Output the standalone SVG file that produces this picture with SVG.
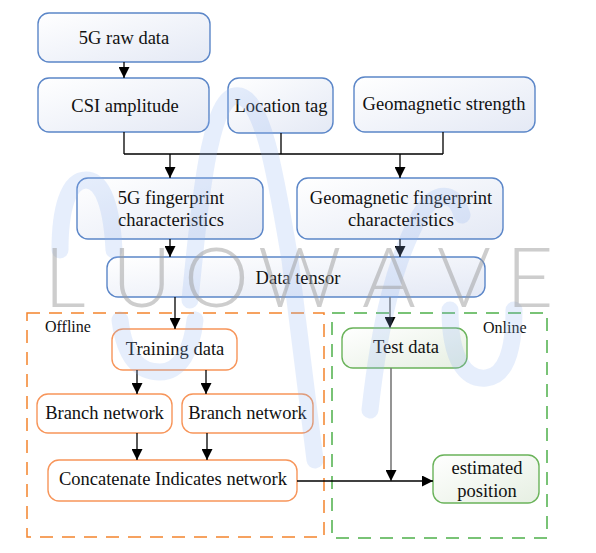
<svg xmlns="http://www.w3.org/2000/svg" width="596" height="553" viewBox="0 0 596 553">
<style>
.t{font-family:"Liberation Serif","Times New Roman",serif;font-size:18.5px;fill:#111;text-anchor:middle}
.lbl{font-family:"Liberation Serif","Times New Roman",serif;font-size:16px;fill:#111}
.bb{fill:url(#gb);stroke:#5b86c8;stroke-width:1.4}
.ob{fill:#fff;stroke:#f7955a;stroke-width:1.4}
.gbx{fill:url(#gg);stroke:#6ab35a;stroke-width:1.4}
.ln{fill:none;stroke:#000;stroke-width:1.3}
.lg{fill:none;stroke:#7a7a7a;stroke-width:1.6}
.ar{marker-end:url(#ah)}
.wm{font-family:"Lato","Roboto","Liberation Sans",sans-serif;font-weight:300;font-size:82px;fill:#9c9c9c;opacity:0.5}
.wb{fill:none;stroke:#8fb0f0;stroke-width:17;stroke-linecap:round;opacity:0.22}
</style>
<defs>
<linearGradient id="gb" x1="0" y1="0" x2="1" y2="1">
<stop offset="0" stop-color="#ffffff"/><stop offset="1" stop-color="#e4e9f5"/>
</linearGradient>
<linearGradient id="gg" x1="0" y1="0" x2="1" y2="1">
<stop offset="0" stop-color="#ffffff"/><stop offset="1" stop-color="#e6efe2"/>
</linearGradient>
<marker id="ah" viewBox="0 0 10 10" refX="10" refY="5" markerWidth="11" markerHeight="11" markerUnits="userSpaceOnUse" orient="auto">
<path d="M0,0 L10,5 L0,10 z" fill="#000"/>
</marker>
</defs>

<g id="offline-region">
<rect x="27" y="313" width="297" height="224" fill="none" stroke="#f4842c" stroke-width="1.5" stroke-dasharray="13 9"/>
<text class="lbl" x="45" y="332">Offline</text>
</g>
<g id="online-region">
<rect x="332" y="313" width="215" height="225" fill="none" stroke="#4db04a" stroke-width="1.5" stroke-dasharray="13 9"/>
<text class="lbl" x="483" y="333">Online</text>
</g>

<g id="n-raw"><rect class="bb" x="38" y="13" width="172" height="49" rx="11"/><text class="t" x="124" y="44">5G raw data</text></g>
<g id="n-csi"><rect class="bb" x="38" y="78" width="171" height="54" rx="11"/><text class="t" x="125" y="112">CSI amplitude</text></g>
<g id="n-loc"><rect class="bb" x="228" y="78" width="105" height="55" rx="11"/><text class="t" x="281" y="112">Location tag</text></g>
<g id="n-geo"><rect class="bb" x="354" y="77" width="181" height="55" rx="11"/><text class="t" x="444" y="110">Geomagnetic strength</text></g>
<g id="n-5gfp"><rect class="bb" x="77" y="178" width="186" height="61" rx="11"/><text class="t" x="171" y="204">5G fingerprint</text><text class="t" x="171" y="226">characteristics</text></g>
<g id="n-geofp"><rect class="bb" x="297" y="178" width="206" height="61" rx="11"/><text class="t" x="401" y="204">Geomagnetic fingerprint</text><text class="t" x="401" y="226">characteristics</text></g>
<g id="n-tensor"><rect class="bb" x="107" y="257" width="378" height="40" rx="11"/><text class="t" x="298" y="284">Data tensor</text></g>
<g id="n-train"><rect class="ob" x="112" y="329" width="125" height="41" rx="11"/><text class="t" x="175" y="355">Training data</text></g>
<g id="n-br1"><rect class="ob" x="37" y="394" width="135" height="39" rx="11"/><text class="t" x="104.5" y="419">Branch network</text></g>
<g id="n-br2"><rect class="ob" x="182" y="394" width="131" height="39" rx="11"/><text class="t" x="247.5" y="419">Branch network</text></g>
<g id="n-concat"><rect class="ob" x="48" y="460" width="249" height="41" rx="11"/><text class="t" x="173" y="485">Concatenate Indicates network</text></g>
<g id="n-test"><rect class="gbx" x="342" y="328" width="125" height="40" rx="11"/><text class="t" x="406" y="353">Test data</text></g>
<g id="n-est"><rect class="gbx" x="433" y="455" width="106" height="48" rx="11"/><text class="t" x="487" y="474">estimated</text><text class="t" x="487" y="497">position</text></g>

<g id="connectors">
<path class="ln ar" d="M124 62 V78"/>
<path class="ln" d="M124 132 V154 M281 133 V154 M443 132 V154 M124 154 H443"/>
<path class="ln ar" d="M170 154 V178"/>
<path class="ln ar" d="M400 154 V178"/>
<path class="ln ar" d="M170 239 V257"/>
<path class="ln ar" d="M400 239 V257"/>
<path class="ln ar" d="M175 297 V329"/>
<path class="lg ar" d="M390 297 V328"/>
<path class="ln ar" d="M137 370 V394"/>
<path class="ln ar" d="M206 370 V394"/>
<path class="ln ar" d="M137 433 V460"/>
<path class="ln ar" d="M207 433 V460"/>
<path class="lg ar" d="M391 368 V481"/>
<path class="ln ar" d="M297 481 H433"/>
</g>

<g id="watermark">
<path class="wb" d="M60 250 C60 210 68 180 86 180 C104 180 112 210 114 250"/>
<path class="wb" d="M120 320 C125 360 140 372 160 372 C180 372 192 350 195 320"/>
<path class="wb" d="M190 300 C198 220 208 100 235 96 C262 92 275 170 290 260 L315 460"/>
<path class="wb" d="M370 410 C380 320 395 260 420 215 C435 190 455 190 462 215"/>
<path class="wb" d="M450 310 C450 360 466 380 486 378 C506 376 514 350 514 310"/>
<text class="wm" x="44 112 184 258 362 437 506" y="307">LUOWAVE</text>
</g>
</svg>
